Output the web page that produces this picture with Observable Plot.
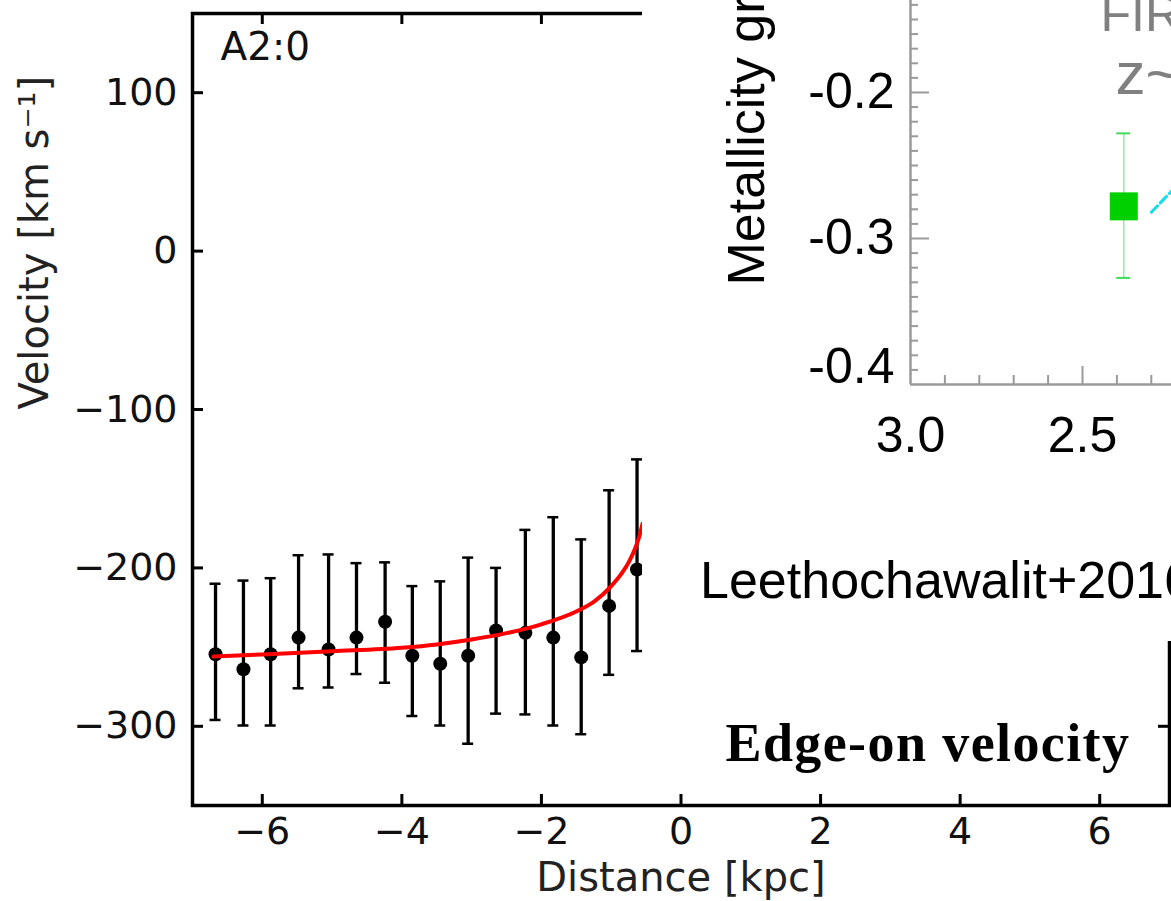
<!DOCTYPE html>
<html><head><meta charset="utf-8">
<script src="https://cdn.jsdelivr.net/npm/d3@7"></script>
<script src="https://cdn.jsdelivr.net/npm/@observablehq/plot@0.6"></script>
<style>
html,body{margin:0;padding:0;background:#fff;overflow:hidden;}
#wrap{position:relative;width:1171px;height:901px;overflow:hidden;}
#main{position:absolute;left:0;top:0;}
#inset{position:absolute;left:642px;top:0;width:529px;height:641px;background:#fff;overflow:hidden;}
</style></head><body>
<div id="wrap"><div id="main"></div><div id="inset"></div></div>
<script>
// ---- Main panel: edge-on velocity profile ----
const distance = [-6.67, -6.27, -5.88, -5.48, -5.05, -4.65, -4.24, -3.85, -3.45, -3.05, -2.65, -2.23, -1.83, -1.43, -1.03, -0.63];
const velocity = [-254.5, -264, -254.5, -244, -251.5, -244, -234, -255.5, -260.5, -255.5, -239.5, -241, -244, -256.5, -224, -201];
const errLow   = [-296, -299.5, -299.5, -276, -275.5, -267, -272.5, -293.5, -299.5, -311, -292, -292.5, -299.5, -305, -267.5, -252.5];
const errHigh  = [-210, -208, -206.5, -192, -191.5, -197, -196.5, -211.5, -208.5, -193.5, -200, -176, -168, -182, -151, -131.5];
const fitX = [-6.7, -6.0, -5.0, -4.0, -3.5, -3.0, -2.5, -2.0, -1.5, -1.25, -1.0, -0.85, -0.75, -0.65, -0.6, -0.55];
const fitV = [-256, -254.6, -252.6, -250.4, -248.3, -245.2, -241.2, -235.6, -227.5, -221.5, -211.5, -203.5, -196.5, -187, -180.5, -172];
const mainXTicks = [-6, -4, -2, 0, 2, 4, 6];
const mainYTicks = [-300, -200, -100, 0, 100];
const mainXLabel = "Distance [kpc]";
const mainYLabel = "Velocity [km s⁻¹]";
const panelLabel = "A2:0";
const annotation = "Edge-on velocity";

// ---- Inset panel: metallicity gradient ----
const metRedshift = [2.38];
const metGradient = [-0.278];
const metLow = [-0.327];
const metHigh = [-0.228];
const trendX = [2.30, 2.20];
const trendY = [-0.282, -0.2575];
const metYTicks = [-0.2, -0.3];
const metYBottomTick = [-0.4];
const metXTicks = [3.0, 2.5];
const metXMinor = [2.9, 2.8, 2.7, 2.6, 2.4, 2.3];
const metYMinor = d3.range(-39, -13).map(k => k / 100).filter(v => Math.abs(v + 0.3) > 1e-9 && Math.abs(v + 0.2) > 1e-9);
const metYLabel = "Metallicity gradient";
const metTitle = "FIRE";
const metSubtitle = "z~2";
const citation = "Leethochawalit+2016";

// ===== main chart =====
const W = 1171, H = 901, mL = 192, mR = 2, mT = 13, mB = 96;
const pw = W - mL - mR, ph = H - mT - mB;
const pts = distance.map((d, i) => ({x: d, v: velocity[i], lo: errLow[i], hi: errHigh[i]}));
const fit = fitX.map((d, i) => ({x: d, v: fitV[i]}));
const capHalf = 5.5 / (pw / 14);
const tl = 11;

const main = Plot.plot({
  width: W, height: H, marginLeft: mL, marginRight: mR, marginTop: mT, marginBottom: mB,
  style: {fontFamily: "DejaVu Sans", fontSize: "38px", background: "white"},
  x: {domain: [-7, 7]},
  y: {domain: [-350, 150]},
  marks: [
    Plot.ruleX(pts, {x: "x", y1: "lo", y2: "hi", stroke: "#000", strokeWidth: 3.3}),
    Plot.ruleY(pts, {y: "hi", x1: d => d.x - capHalf, x2: d => d.x + capHalf, stroke: "#000", strokeWidth: 2.5}),
    Plot.ruleY(pts, {y: "lo", x1: d => d.x - capHalf, x2: d => d.x + capHalf, stroke: "#000", strokeWidth: 2.5}),
    Plot.dot(pts, {x: "x", y: "v", r: 7, fill: "#000", stroke: "none"}),
    Plot.line(fit, {x: "x", y: "v", stroke: "#ff0000", strokeWidth: 4, curve: "monotone-x"}),
    Plot.frame({stroke: "#000", strokeWidth: 3.5}),
    Plot.tickX(mainXTicks, {x: d => d, insetTop: ph - tl, stroke: "#000", strokeWidth: 3}),
    Plot.tickX(mainXTicks, {x: d => d, insetBottom: ph - tl, stroke: "#000", strokeWidth: 3}),
    Plot.tickY(mainYTicks, {y: d => d, insetRight: pw - tl, stroke: "#000", strokeWidth: 3}),
    Plot.tickY(mainYTicks, {y: d => d, insetLeft: pw - tl, stroke: "#000", strokeWidth: 3}),
    Plot.axisX(mainXTicks, {tickSize: 0, tickPadding: 12, fontSize: 38, label: null, fill: "#111"}),
    Plot.axisY(mainYTicks, {tickSize: 0, tickPadding: 15, fontSize: 38, label: null, fill: "#111"}),
    Plot.text([mainXLabel], {frameAnchor: "bottom", lineAnchor: "top", dy: 57, fontSize: 40, fill: "#222"}),
    Plot.text([mainYLabel], {frameAnchor: "left", rotate: -90, lineAnchor: "top", dx: -173, fontSize: 40, fill: "#222"}),
    Plot.text([panelLabel], {frameAnchor: "top-left", textAnchor: "start", lineAnchor: "top", dx: 28, dy: 19, fontSize: 39, fill: "#111"}),
    Plot.text([annotation], {frameAnchor: "bottom-left", textAnchor: "start", lineAnchor: "top", dx: 533, dy: -83, fontSize: 54, fontFamily: "Liberation Serif", fontWeight: "bold", fill: "#000"})
  ]
});
d3.select(main).selectAll("text").filter(function() { return this.textContent === annotation; }).style("letter-spacing", "1.4px");
document.getElementById("main").appendChild(main);

// ===== inset chart =====
const iW = 529, iH = 641, iL = 268, iR = 0, iT = 0, iB = iH - 384;
const ipw = iW - iL - iR, iph = iH - iT - iB;
const met = metRedshift.map((d, i) => ({x: d, y: metGradient[i], lo: metLow[i], hi: metHigh[i]}));
const trend = trendX.map((d, i) => ({x: d, y: trendY[i]}));
const capM = 7 / (ipw / (3.0 - 2.2413));
const gray = "#9a9a9a";
const sans = "Liberation Sans";

const inset = Plot.plot({
  width: iW, height: iH, marginLeft: iL, marginRight: iR, marginTop: iT, marginBottom: iB,
  style: {fontFamily: sans, fontSize: "50px", background: "white"},
  x: {domain: [3.0, 2.2413]},
  y: {domain: [-0.4, -0.137]},
  marks: [
    Plot.ruleX(met, {x: "x", y1: "lo", y2: "hi", stroke: "#9be8a6", strokeWidth: 1.5}),
    Plot.ruleY(met, {y: "hi", x1: d => d.x - capM, x2: d => d.x + capM, stroke: "#3ddc5a", strokeWidth: 2}),
    Plot.ruleY(met, {y: "lo", x1: d => d.x - capM, x2: d => d.x + capM, stroke: "#3ddc5a", strokeWidth: 2}),
    Plot.dot(met, {x: "x", y: "y", symbol: "square", r: 15.8, fill: "#00d000", stroke: "none"}),
    Plot.line(trend, {x: "x", y: "y", stroke: "#18dce6", strokeWidth: 3, strokeDasharray: "9,4"}),
    Plot.ruleX([3.0], {x: d => d, stroke: gray, strokeWidth: 2.5}),
    Plot.ruleY([-0.4], {y: d => d, stroke: gray, strokeWidth: 2.5}),
    Plot.tickY(metYMinor, {y: d => d, insetRight: ipw - 8, stroke: gray, strokeWidth: 2}),
    Plot.tickY(metYTicks, {y: d => d, insetRight: ipw - 19, stroke: gray, strokeWidth: 2}),
    Plot.tickX(metXMinor, {x: d => d, insetTop: iph - 9, stroke: gray, strokeWidth: 2}),
    Plot.tickX([2.5], {x: d => d, insetTop: iph - 18, stroke: gray, strokeWidth: 2}),
    Plot.axisY(metYTicks, {tickSize: 0, tickPadding: 16, tickFormat: d => d.toFixed(1), fontSize: 50, label: null}),
    Plot.axisY(metYBottomTick, {tickSize: 0, tickPadding: 16, tickFormat: d => d.toFixed(1), fontSize: 50, label: null, dy: -18}),
    Plot.axisX(metXTicks, {tickSize: 0, tickPadding: 32, tickFormat: d => d.toFixed(1), fontSize: 50, label: null}),
    Plot.text([metYLabel], {frameAnchor: "bottom-left", rotate: -90, textAnchor: "start", lineAnchor: "middle", dx: -163.5, dy: -99, fontSize: 52, fill: "#000"}),
    Plot.text([metTitle], {frameAnchor: "top-left", textAnchor: "start", lineAnchor: "top", dx: 190, dy: -5.5, fontSize: 50, fill: "#808080"}),
    Plot.text([metSubtitle], {frameAnchor: "top-left", textAnchor: "start", lineAnchor: "top", dx: 205, dy: 50.4, fontSize: 60, fill: "#808080"}),
    Plot.text([citation], {frameAnchor: "top-left", textAnchor: "start", lineAnchor: "top", dx: -210.5, dy: 560.1, fontSize: 52, fill: "#000"})
  ]
});
document.getElementById("inset").appendChild(inset);
</script>
</body></html>
